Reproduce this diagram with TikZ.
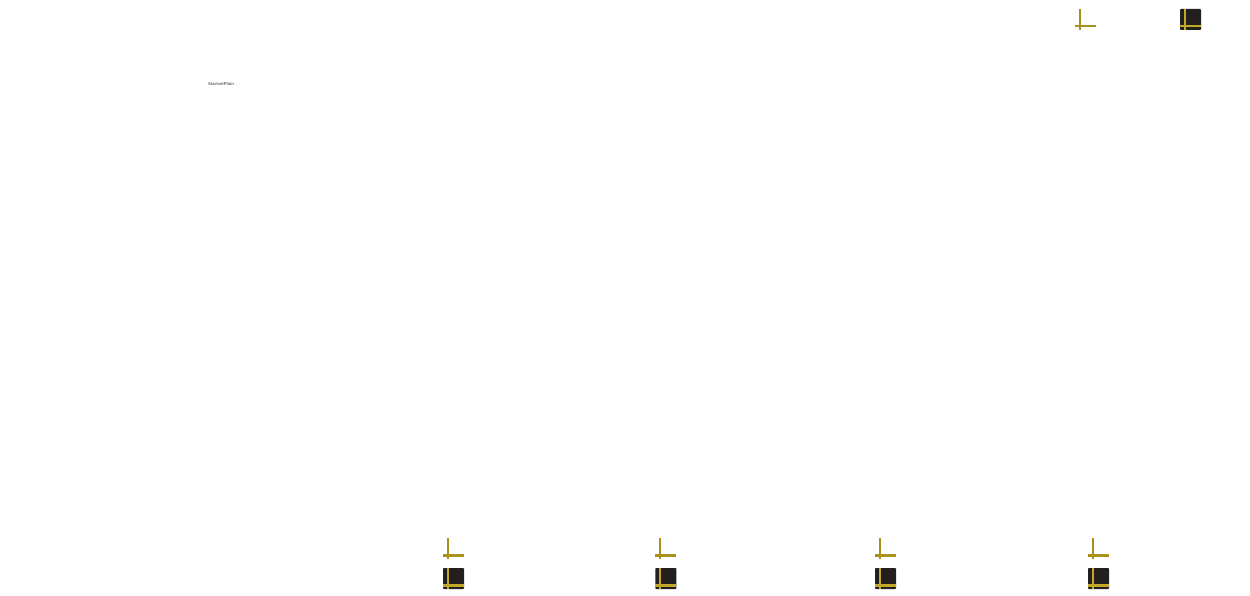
\documentclass[tikz,border=0pt]{standalone}
\usepackage{fontspec}
\setmainfont{Liberation Sans}
\definecolor{goldline}{HTML}{A8921C}
\definecolor{goldbright}{HTML}{C2A826}
\definecolor{darkbox}{HTML}{231F20}
\tikzset{
  xline/.style={draw=#1, line width=2.2pt},
  darksq/.style={fill=darkbox, rounded corners=0.8pt},
  pic label/.style={inner sep=0pt, text=black!60, font=\bfseries\fontsize{4.2}{6}\selectfont}
}
\newcommand{\axesmark}[2]{%
  \draw[xline=goldline] (#1+4.6,#2) -- (#1+4.6,#2+21);
  \draw[xline=goldline] (#1,#2+17.4) -- (#1+21,#2+17.4);
}
\newcommand{\boxmark}[2]{%
  \path[darksq] (#1,#2) rectangle (#1+21,#2+21);
  \draw[xline=goldbright] (#1+4.6,#2) -- (#1+4.6,#2+21);
  \draw[xline=goldbright] (#1,#2+17.4) -- (#1+21,#2+17.4);
}
\begin{document}
\begin{tikzpicture}[x=1pt,y=-1pt]
  \useasboundingbox (0,0) rectangle (1250,596);
  \node[pic label] (caption) at (221,84.5) {StartsetPlain};
  \axesmark{1075}{9}
  \boxmark{1180}{9}
  \axesmark{443}{538}
  \boxmark{443}{568}
  \axesmark{655.4}{538}
  \boxmark{655.4}{568}
  \axesmark{875}{538}
  \boxmark{875}{568}
  \axesmark{1088}{538}
  \boxmark{1088}{568}
\end{tikzpicture}
\end{document}
